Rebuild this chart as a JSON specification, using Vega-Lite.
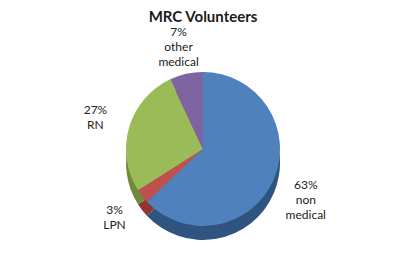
{
  "$schema": "https://vega.github.io/schema/vega-lite/v6.json",
  "width": 390,
  "height": 234,
  "autosize": "none",
  "padding": {"top": 32, "left": 8, "right": 0, "bottom": 0},
  "background": "white",
  "title": {"text": "MRC Volunteers", "font": "Lato", "fontSize": 15, "fontWeight": "bold", "color": "#1a1a1a", "anchor": "middle", "frame": "group", "offset": 1},
  "data": {"values": [
    {"category": "non medical", "value": 63, "label": "63%\nnon\nmedical", "idx": 1},
    {"category": "LPN", "value": 3, "label": "3%\nLPN", "idx": 2},
    {"category": "RN", "value": 27, "label": "27%\nRN", "idx": 3},
    {"category": "other medical", "value": 7, "label": "7%\nother\nmedical", "idx": 4}
  ]},
  "layer": [
    {
      "mark": {"type": "arc", "radius": 77, "yOffset": 14},
      "encoding": {
        "theta": {"field": "value", "type": "quantitative", "stack": true},
        "order": {"field": "idx", "type": "quantitative"},
        "fill": {"field": "category", "type": "nominal", "legend": null,
          "scale": {"domain": ["non medical", "LPN", "RN", "other medical"], "range": ["#2f5480", "#8f3532", "#6f8a3c", "#5b4678"]}}
      }
    },
    {
      "mark": {"type": "arc", "radius": 77},
      "encoding": {
        "theta": {"field": "value", "type": "quantitative", "stack": true},
        "order": {"field": "idx", "type": "quantitative"},
        "color": {"field": "category", "type": "nominal", "legend": null,
          "scale": {"domain": ["non medical", "LPN", "RN", "other medical"], "range": ["#4f81bd", "#c0504d", "#9bbb59", "#8064a2"]}}
      }
    },
    {
      "mark": {"type": "text", "radius": 112, "dy": -8, "font": "Lato", "fontSize": 12, "lineBreak": "\n", "color": "#222", "lineHeight": 15},
      "encoding": {
        "theta": {"field": "value", "type": "quantitative", "stack": true},
        "order": {"field": "idx", "type": "quantitative"},
        "text": {"field": "label", "type": "nominal"}
      }
    }
  ]
}
